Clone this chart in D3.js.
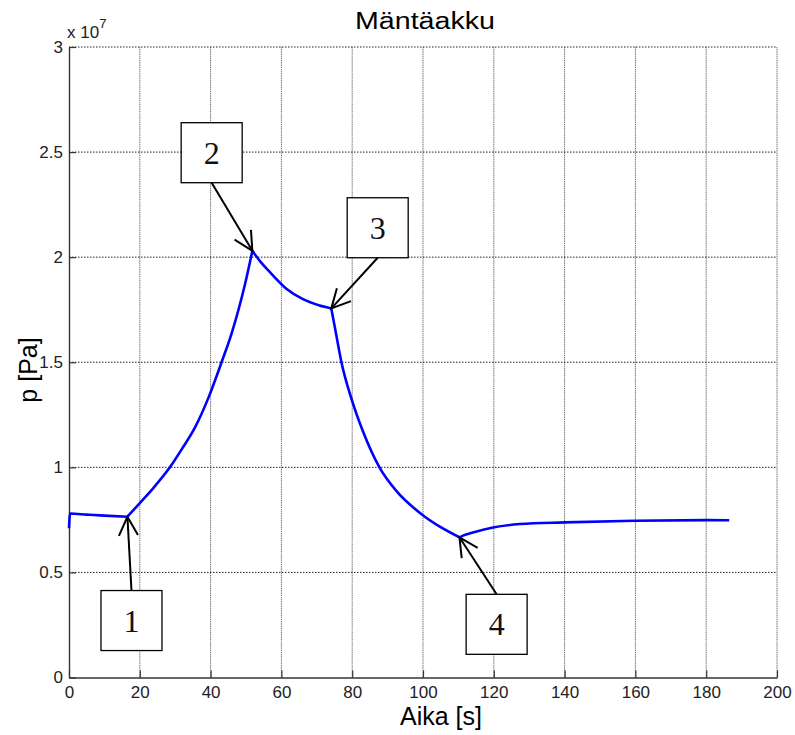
<!DOCTYPE html>
<html>
<head>
<meta charset="utf-8">
<script src="https://cdn.jsdelivr.net/npm/d3@7.9.0/dist/d3.min.js"></script>
<style>
  body { margin: 0; background: #fff; }
  svg { display: block; font-family: "Liberation Sans", Arial, sans-serif; }
</style>
</head>
<body>
<svg id="chart" width="795" height="735"></svg>
<script>
// time [s] and pressure [x 1e7 Pa]
const time = [0, 0.3, 5, 10, 16.5, 20, 24, 28.5, 32, 35.6, 39.6, 43.1, 45.9, 47.8, 49.7, 51.8,
  54, 56.7, 61.4, 66.1, 70.8, 74.1, 75.5, 76.9, 80, 83, 87.7, 92.4, 99.5, 105, 110.3,
  111.3, 114.1, 119.8, 127.4, 140, 159.7, 179.9, 186.5];
const pressure = [0.71, 0.78, 0.775, 0.77, 0.765, 0.83, 0.905, 1.0, 1.09, 1.19, 1.34, 1.50, 1.635, 1.745, 1.87, 2.03,
  1.98, 1.93, 1.85, 1.80, 1.77, 1.756, 1.63, 1.505, 1.315, 1.173, 1.0, 0.889, 0.778, 0.715, 0.667,
  0.675, 0.69, 0.714, 0.73, 0.738, 0.746, 0.749, 0.748];

const xTicks = [0, 20, 40, 60, 80, 100, 120, 140, 160, 180, 200];
const yTicks = [0, 0.5, 1, 1.5, 2, 2.5, 3];

// numbered callouts: box centre and the point the arrow hits
const noteLabels = ['1', '2', '3', '4'];
const noteBoxX = [17.65, 40.3, 87.2, 120.8];
const noteBoxY = [0.271, 2.497, 2.14, 0.253];
const noteTargetX = [16.5, 51.8, 74.1, 110.3];
const noteTargetY = [0.765, 2.03, 1.756, 0.667];

const svg = d3.select('#chart');
const x = d3.scaleLinear().domain([0, 200]).range([69, 777]);
const y = d3.scaleLinear().domain([0, 3]).range([677.5, 47]);

// grid
svg.append('g').selectAll('line')
  .data(xTicks.slice(1))
  .join('line')
  .attr('x1', d => x(d)).attr('x2', d => x(d))
  .attr('y1', y(0)).attr('y2', y(3))
  .attr('stroke', '#777').attr('stroke-dasharray', '1.5,0.7');

svg.append('g').selectAll('line')
  .data(yTicks.slice(1))
  .join('line')
  .attr('x1', x(0)).attr('x2', x(200))
  .attr('y1', d => y(d)).attr('y2', d => y(d))
  .attr('stroke', '#222').attr('stroke-dasharray', '1.5,1.5');

// axes, ticks pointing inward
const xAxis = d3.axisBottom(x).tickValues(xTicks).tickSizeInner(-7).tickSizeOuter(0).tickPadding(8);
const yAxis = d3.axisLeft(y).tickValues(yTicks).tickFormat(d3.format('~g'))
  .tickSizeInner(-7).tickSizeOuter(0).tickPadding(6);

const gx = svg.append('g').attr('transform', `translate(0,${y(0)})`).call(xAxis);
const gy = svg.append('g').attr('transform', `translate(${x(0)},0)`).call(yAxis);
[gx, gy].forEach(g => {
  g.attr('font-size', null).attr('font-family', null);
  g.select('.domain').attr('stroke', '#333').attr('stroke-width', 1.4);
  g.selectAll('.tick line').attr('stroke', '#333').attr('stroke-width', 1.2);
  g.selectAll('.tick text').attr('fill', '#222').style('font-size', '17px');
});
gx.selectAll('.tick text').attr('dy', '0.71em');

// exponent label
const expo = svg.append('text').attr('x', 67).attr('y', 38)
  .style('font-size', '17px').attr('fill', '#222');
expo.append('tspan').text('x 10');
expo.append('tspan').attr('dy', -10).style('font-size', '13px').text('7');

// curve, split at the marked points so the corners stay sharp
const line = d3.line()
  .x(d => x(d[0]))
  .y(d => y(d[1]))
  .curve(d3.curveMonotoneX);

const pts = time.map((t, i) => [t, pressure[i]]);
const segments = [];
let current = [];
pts.forEach(p => {
  current.push(p);
  if (noteTargetX.includes(p[0])) {
    segments.push(current);
    current = [p];
  }
});
segments.push(current);

svg.append('path')
  .attr('d', segments.map(s => line(s)).join(''))
  .attr('fill', 'none')
  .attr('stroke', '#0000ff')
  .attr('stroke-width', 2.6)
  .attr('stroke-linejoin', 'round');

// callouts
const boxW = 61, boxH = 60;
noteLabels.forEach((lab, i) => {
  const cx = x(noteBoxX[i]), cy = y(noteBoxY[i]);
  const tx = x(noteTargetX[i]), ty = y(noteTargetY[i]);
  const sy = ty < cy ? cy - boxH / 2 : cy + boxH / 2;

  svg.append('line')
    .attr('x1', cx).attr('y1', sy).attr('x2', tx).attr('y2', ty)
    .attr('stroke', '#000').attr('stroke-width', 2);

  const ang = Math.atan2(sy - ty, cx - tx);
  const len = 21, spread = 27 * Math.PI / 180;
  const wings = [ang - spread, ang + spread].map(a => [tx + len * Math.cos(a), ty + len * Math.sin(a)]);
  svg.append('path')
    .attr('d', `M${wings[0][0]},${wings[0][1]}L${tx},${ty}L${wings[1][0]},${wings[1][1]}`)
    .attr('fill', 'none').attr('stroke', '#000').attr('stroke-width', 2);

  svg.append('rect')
    .attr('x', cx - boxW / 2).attr('y', cy - boxH / 2)
    .attr('width', boxW).attr('height', boxH)
    .attr('fill', '#fff').attr('stroke', '#000').attr('stroke-width', 1.3);

  svg.append('text')
    .attr('x', cx).attr('y', cy + 11)
    .attr('text-anchor', 'middle')
    .attr('font-family', '"Liberation Serif", "Times New Roman", serif')
    .style('font-size', '32px')
    .attr('fill', '#111')
    .text(lab);
});

// titles
svg.append('text').attr('x', 425).attr('y', 29)
  .attr('text-anchor', 'middle').style('font-size', '23px')
  .attr('textLength', 140).attr('lengthAdjust', 'spacingAndGlyphs')
  .text('Mäntäakku');

svg.append('text').attr('x', 441).attr('y', 725)
  .attr('text-anchor', 'middle').style('font-size', '25px')
  .text('Aika [s]');

svg.append('text')
  .attr('transform', 'translate(37,370) rotate(-90)')
  .attr('text-anchor', 'middle').style('font-size', '25px')
  .text('p [Pa]');
</script>
</body>
</html>
